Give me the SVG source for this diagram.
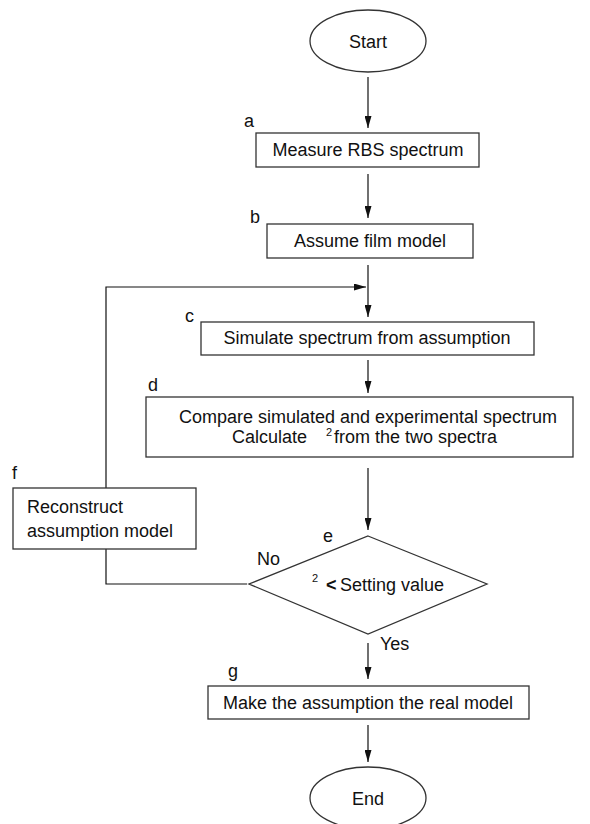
<svg xmlns="http://www.w3.org/2000/svg" width="590" height="824" viewBox="0 0 590 824">
<style>
text{font-family:"Liberation Sans",Arial,sans-serif;font-size:18px;fill:#111}
.c{text-anchor:middle}
.sup{font-size:11px}
.node{fill:#fff;stroke:#333;stroke-width:1.3}
.edge{fill:none;stroke:#111;stroke-width:1.2}
</style>
<defs>
<marker id="ah" markerWidth="12" markerHeight="7" refX="12" refY="3.5" orient="auto" markerUnits="userSpaceOnUse">
<path d="M0,0 L12,3.5 L0,7 z" fill="#111"/>
</marker>
</defs>
<rect width="590" height="824" fill="#fff"/>
<g id="connectors">
<line class="edge" x1="368" y1="77" x2="368" y2="128" marker-end="url(#ah)"/>
<line class="edge" x1="368" y1="174" x2="368" y2="218" marker-end="url(#ah)"/>
<line class="edge" x1="368" y1="265" x2="368" y2="317" marker-end="url(#ah)"/>
<line class="edge" x1="368" y1="360" x2="368" y2="393" marker-end="url(#ah)"/>
<line class="edge" x1="368" y1="468" x2="368" y2="530" marker-end="url(#ah)"/>
<line class="edge" x1="368" y1="643" x2="368" y2="679" marker-end="url(#ah)"/>
<line class="edge" x1="368" y1="725" x2="368" y2="762" marker-end="url(#ah)"/>
<polyline class="edge" points="247,584 106,584 106,287 366,287" marker-end="url(#ah)"/>
</g>
<g id="start">
<ellipse class="node" cx="368" cy="41" rx="58" ry="31"/>
<text class="c" x="368" y="48">Start</text>
</g>
<g id="a">
<rect class="node" x="256" y="133" width="223" height="34"/>
<text class="c" x="368" y="156">Measure RBS spectrum</text>
<text x="244" y="127">a</text>
</g>
<g id="b">
<rect class="node" x="267" y="224" width="206" height="34"/>
<text class="c" x="370" y="247">Assume film model</text>
<text x="250" y="223">b</text>
</g>
<g id="c">
<rect class="node" x="201" y="322" width="333" height="33"/>
<text class="c" x="367" y="344">Simulate spectrum from assumption</text>
<text x="185" y="322">c</text>
</g>
<g id="d">
<rect class="node" x="146" y="397" width="427" height="60"/>
<text class="c" x="368" y="423">Compare simulated and experimental spectrum</text>
<text x="232" y="443">Calculate</text>
<text class="sup" x="326" y="436">2</text>
<text x="334" y="443">from the two spectra</text>
<text x="148" y="391">d</text>
</g>
<g id="e">
<polygon class="node" points="368,536 487,584 368,634 249,584"/>
<text class="sup" x="312" y="582">2</text>
<text x="326" y="591" style="font-weight:bold">&lt;</text>
<text x="340" y="591">Setting value</text>
<text x="323" y="542">e</text>
<text x="257" y="565">No</text>
<text x="380" y="650">Yes</text>
</g>
<g id="f">
<rect class="node" x="13" y="488" width="183" height="61"/>
<text x="27" y="513">Reconstruct</text>
<text x="27" y="537">assumption model</text>
<text x="12" y="479">f</text>
</g>
<g id="g">
<rect class="node" x="208" y="686" width="321" height="33"/>
<text class="c" x="368" y="709">Make the assumption the real model</text>
<text x="228" y="677">g</text>
</g>
<g id="end">
<ellipse class="node" cx="368" cy="798" rx="58" ry="31"/>
<text class="c" x="368" y="805">End</text>
</g>
</svg>
